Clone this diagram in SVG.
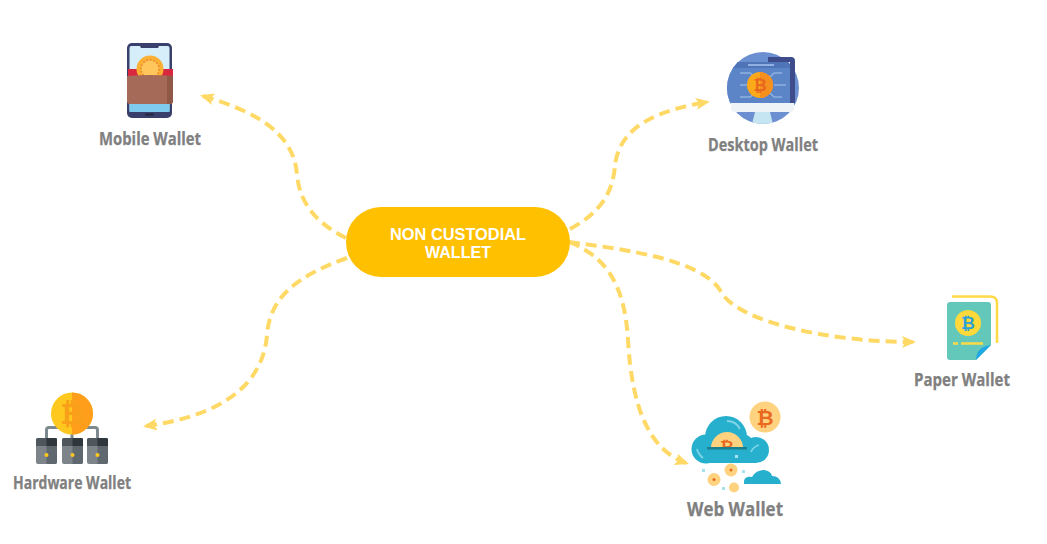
<svg xmlns="http://www.w3.org/2000/svg" width="1047" height="544" viewBox="0 0 1047 544">
<style>
.lbl{font-family:"Open Sans","Liberation Sans",sans-serif;font-weight:700;fill:#808080;stroke:#808080;stroke-width:.25;text-anchor:start}
.hub{font-family:"Liberation Sans","Open Sans",sans-serif;font-weight:700;fill:#fff;font-size:15.600px}
.btc{font-family:"DejaVu Sans",sans-serif;font-weight:700;text-anchor:middle}
.conn{fill:none;stroke:#FFD966;stroke-width:4;stroke-dasharray:11 6;marker-end:url(#arrow)}
</style>
<defs>
<marker id="arrow" viewBox="0 0 14 12" refX="11" refY="6" markerWidth="14" markerHeight="12" markerUnits="userSpaceOnUse" orient="auto">
<path d="M0 0L14 6L0 12L3 6Z" fill="#FFD966"/>
</marker>
<clipPath id="dc"><circle cx="763" cy="88" r="36"/></clipPath>
<clipPath id="hc"><rect x="700" y="425" width="60" height="23"/></clipPath>
</defs>
<g id="connectors">
<path class="conn" d="M346 238C318 224 300 205 297 175C294 130 250 110 203 96"/>
<path class="conn" d="M570 229C598 214 613 195 615 165C620 125 660 110 707 102"/>
<path class="conn" d="M569 242C630 250 700 260 720 290C735 322 830 342 913 342"/>
<path class="conn" d="M569 242C610 258 625 290 628 340C632 410 650 450 686 463"/>
<path class="conn" d="M347 258C300 275 270 295 267 335C262 395 205 418 146 426"/>
</g>
<g id="hub">
<rect x="346" y="207" width="224" height="70" rx="35" fill="#FFC000"/>
<text class="hub"><tspan x="390" y="240" textLength="136" lengthAdjust="spacingAndGlyphs">NON CUSTODIAL</tspan><tspan x="425" y="258" textLength="66" lengthAdjust="spacingAndGlyphs">WALLET</tspan></text>
</g>
<g id="mobile-wallet">
<rect x="127" y="43" width="45" height="75" rx="5" fill="#39406B"/>
<rect x="129.500" y="46" width="40" height="66" rx="2" fill="#D5EEFA"/>
<rect x="129.500" y="103" width="40" height="9" fill="#7FCBEF"/>
<path d="M139 44h21l-2 4h-17z" fill="#39406B"/>
<rect x="145" y="113.500" width="9" height="2" rx="1" fill="#22263f"/>
<path d="M128 69h45v8h-45z" fill="#D9273F"/>
<circle cx="150" cy="69" r="13.500" fill="#FBB034"/>
<circle cx="150" cy="69" r="9" fill="#FFC65C" stroke="#E87E2F" stroke-width="1.500" stroke-dasharray="1.500 2"/>
<path d="M127 76Q150 74 173 76V101Q173 104 170 104H130Q127 104 127 101Z" fill="#A66A58"/>
<path d="M167 75.500L173 76V101Q173 104 170 104H167Z" fill="#8F5847"/>
<text class="lbl" x="99" y="145" font-size="17" textLength="102" lengthAdjust="spacingAndGlyphs">Mobile Wallet</text>
</g>
<g id="desktop-wallet">
<circle cx="763" cy="88" r="36" fill="#6B8FD0"/>
<path d="M768 57H791Q795 57 795 61V103H790V62H768Z" fill="#3F4C8C"/>
<rect x="727" y="62" width="63" height="41" fill="#5C85C8" clip-path="url(#dc)"/>
<rect x="790" y="62" width="0" height="41"/>
<rect x="727" y="62" width="63" height="6" fill="#4F74B8" clip-path="url(#dc)"/>
<g stroke="#8FB0E0" stroke-width="1.500" fill="none">
<path d="M740 73h10l6 5M740 85h8M740 97h10l6-5M782 73h-8l-5 5M786 85h-12M782 97h-8l-5-5"/>
<path d="M748 65h26" stroke-width="2"/>
</g>
<circle cx="760" cy="85" r="13" fill="#FBA919"/>
<path d="M760 72a13 13 0 0 1 0 26Z" fill="#F58F1E"/>
<text class="btc" x="760" y="91" font-size="16" fill="#E8641F">₿</text>
<path d="M731 103H794V108Q794 112 790 112H735Q731 112 731 108Z" fill="#EEF3F8"/>
<path d="M755 112H770L773 124H752Z" fill="#C5E5F2" clip-path="url(#dc)"/>
<text class="lbl" x="708" y="151" font-size="17" textLength="110" lengthAdjust="spacingAndGlyphs">Desktop Wallet</text>
</g>
<g id="paper-wallet">
<path d="M952 296.500H990Q997 296.500 997 303V343" fill="none" stroke="#FFDA44" stroke-width="2.500"/>
<path d="M950 302H988Q991 302 991 305V345L976 360H950Q947 360 947 357V305Q947 302 950 302Z" fill="#63C7BA"/>
<path d="M991 345L976 360Q976 347 991 345Z" fill="#1FA8E1"/>
<circle cx="968" cy="323" r="13" fill="#FFD93B"/>
<text class="btc" x="968" y="329" font-size="17" fill="#2A9FD8">₿</text>
<path d="M953 343.500h5M961 343.500h22" stroke="#FFDA44" stroke-width="2.500"/>
<text class="lbl" x="914" y="386" font-size="17" textLength="96" lengthAdjust="spacingAndGlyphs">Paper Wallet</text>
</g>
<g id="web-wallet">
<circle cx="765" cy="417" r="15.500" fill="#FFD27F"/>
<text class="btc" x="765" y="425" font-size="21" fill="#E9691F">₿</text>
<g fill="#27B0CE"><circle cx="706" cy="449" r="14.500"/><circle cx="726" cy="437" r="21"/><circle cx="756" cy="450" r="13"/><circle cx="742" cy="446" r="12"/><rect x="706" y="445" width="50" height="18"/></g>
<circle cx="727" cy="448" r="16" fill="#FFD27F" clip-path="url(#hc)"/>
<text class="btc" x="727" y="453" font-size="17" fill="#E9691F" clip-path="url(#hc)">₿</text>
<rect x="707" y="447" width="40" height="2.500" fill="#1D7F8E"/>
<path d="M727 421Q736 421 740 429M697 449Q698 454 703 458M751 452Q753 447 759 445" fill="none" stroke="#7FD4E6" stroke-width="1.800"/>
<circle cx="731" cy="470" r="6.500" fill="#FFD27F"/>
<circle cx="731" cy="470" r="1.500" fill="#E9691F"/>
<circle cx="714" cy="479.500" r="6.500" fill="#FFD27F"/>
<circle cx="714" cy="479.500" r="1.500" fill="#E9691F"/>
<circle cx="734" cy="487.500" r="5" fill="#FFD27F"/>
<g fill="#A9E2EF"><rect x="702" y="469" width="3" height="3"/><rect x="742" y="470" width="3" height="3"/><rect x="722" y="487" width="3" height="3"/><rect x="735" y="455" width="3" height="3"/></g>
<path d="M744 484V481Q745 476 752 477Q756 470 764 470Q771 471 772 476Q780 476 781 484Z" fill="#27B0CE"/>
<text class="lbl" x="687" y="516" font-size="19" textLength="96" lengthAdjust="spacingAndGlyphs">Web Wallet</text>
</g>
<g id="hardware-wallet">
<path d="M46.500 438V430Q46.500 427.500 49 427.500H95Q97.500 427.500 97.500 430V438M72 430V438" fill="none" stroke="#7D8A90" stroke-width="3"/>
<g id="servers">
<rect x="36" y="438" width="21" height="26" rx="2" fill="#7D858A"/><path d="M46.500 438H55Q57 438 57 440V462Q57 464 55 464H46.500Z" fill="#5F686E"/><path d="M38 438H55Q57 438 57 440V446H36V440Q36 438 38 438Z" fill="#4D575D"/><path d="M46.500 438H55Q57 438 57 440V446H46.500Z" fill="#2F373C"/>
<rect x="62" y="438" width="21" height="26" rx="2" fill="#7D858A"/><path d="M72.500 438H81Q83 438 83 440V462Q83 464 81 464H72.500Z" fill="#5F686E"/><path d="M64 438H81Q83 438 83 440V446H62V440Q62 438 64 438Z" fill="#4D575D"/><path d="M72.500 438H81Q83 438 83 440V446H72.500Z" fill="#2F373C"/>
<rect x="87" y="438" width="21" height="26" rx="2" fill="#7D858A"/><path d="M97.500 438H106Q108 438 108 440V462Q108 464 106 464H97.500Z" fill="#5F686E"/><path d="M89 438H106Q108 438 108 440V446H87V440Q87 438 89 438Z" fill="#4D575D"/><path d="M97.500 438H106Q108 438 108 440V446H97.500Z" fill="#2F373C"/>
<circle cx="46.500" cy="455" r="2" fill="#FFC81E"/><circle cx="72.500" cy="455" r="2" fill="#FFC81E"/><circle cx="97.500" cy="455" r="2" fill="#FFC81E"/>
</g>
<circle cx="72" cy="413.500" r="21" fill="#FFC81E"/>
<path d="M72 392.500a21 21 0 0 1 0 42Z" fill="#FF9E1B"/>
<text class="btc" x="72" y="424" font-size="29" fill="#F9A01B">₿</text>
<text class="lbl" x="13" y="489" font-size="17" textLength="118" lengthAdjust="spacingAndGlyphs">Hardware Wallet</text>
</g>
</svg>
